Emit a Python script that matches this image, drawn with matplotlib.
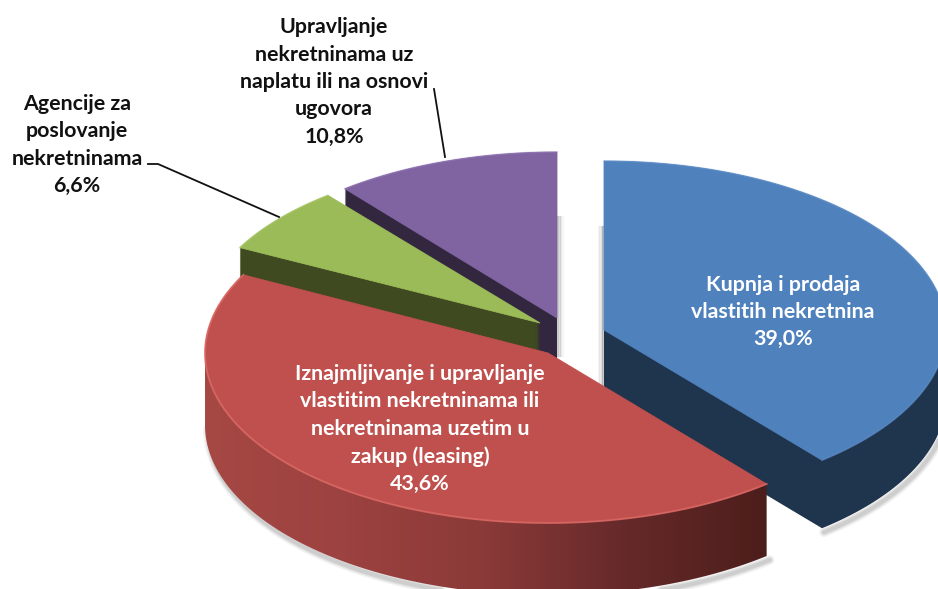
import numpy as np
import matplotlib
matplotlib.use('Agg')
import matplotlib.pyplot as plt
from matplotlib.colors import LinearSegmentedColormap
from matplotlib.patches import Polygon

# data, clockwise from 12 o'clock
names = ['Kupnja i prodaja\nvlastitih nekretnina',
         'Iznajmljivanje i upravljanje\nvlastitim nekretninama ili\nnekretninama uzetim u\nzakup (leasing)',
         'Agencije za\nposlovanje\nnekretninama',
         'Upravljanje\nnekretninama uz\nnaplatu ili na osnovi\nugovora']
values = [39.0, 43.6, 6.6, 10.8]
value_labels = ['39,0%', '43,6%', '6,6%', '10,8%']

# look of each slice
top_colors = ['#4F81BD', '#C0504D', '#9BBB59', '#8064A2']
wall_colors = ['#1F344D', '#8A3A38', '#3F4A20', '#32273F']
rim_colors = ['#6F9BD0', '#DE6C68', '#B3D070', '#9A80BC']
rim_alpha = [0.25, 0.7, 0.3, 0.3]
apex_x = [604, 548, 540, 557]
apex_y = [330, 353, 323, 318]
rad_x = [342, 343, 338, 338]
rad_y = [169, 170, 164, 166]
depth = [69, 72, 62, 62]
label_x = [783, 420, 77, 334]
label_y = [312, 429, 145, 82]
label_colors = ['white', 'white', '#111111', '#111111']

plt.rcParams['font.family'] = ['Lato', 'DejaVu Sans']

fig = plt.figure(figsize=(9.38, 5.89), dpi=100, facecolor='white')
ax = fig.add_axes([0, 0, 1, 1])


def arc(i, a0, a1, n=160):
    t = np.radians(np.linspace(a0, a1, n))
    return apex_x[i] + rad_x[i] * np.sin(t), apex_y[i] - rad_y[i] * np.cos(t)


def soft_shadow(xs, ys, dx=3, dy=4):
    # grey strokes getting narrower to fake the blur
    for lw, a in zip([7, 5, 3], [0.07, 0.10, 0.14]):
        ax.plot(xs + dx, ys + dy, color='#555555', lw=lw, alpha=a,
                solid_capstyle='round', zorder=1)


edges = np.concatenate([[0], np.cumsum(values)]) / sum(values) * 360
wall_cmap = LinearSegmentedColormap.from_list(
    'redwall', ['#A64844', '#9C4240', '#8A3A38', '#66292A', '#4C1E1B'])


def draw_slice(i, z):
    a0, a1 = edges[i], edges[i + 1]
    x, y = arc(i, a0, a1)
    top = np.column_stack([np.r_[apex_x[i], x], np.r_[apex_y[i], y]])

    if i == 1:
        # outer wall of the red slice, shaded left to right
        wx, wy = arc(i, a0, 270)
        band = np.column_stack([np.r_[wx, wx[::-1]], np.r_[wy, wy[::-1] + depth[i]]])
        soft_shadow(wx, wy + depth[i])
        clip = Polygon(band, closed=True, transform=ax.transData, fc='none', ec='none')
        ax.add_patch(clip)
        grad = np.linspace(0, 1, 256).reshape(1, -1)
        im = ax.imshow(grad, cmap=wall_cmap, aspect='auto', zorder=z,
                       extent=[wx.min(), wx.max(), 589, 0])
        im.set_clip_path(clip)
    else:
        if i == 0:
            wx, wy = arc(i, 90, a1)
            soft_shadow(wx, wy + depth[i], dx=2, dy=3)
        # start one pixel down so no dark edge shows round the top face
        for d in range(1, depth[i]):
            ax.add_patch(Polygon(top + [0, d], closed=True, fc=wall_colors[i],
                                 ec='none', zorder=z))

    ax.add_patch(Polygon(top, closed=True, fc=top_colors[i], ec=top_colors[i], lw=0.6,
                         zorder=z + 0.1))
    ax.plot(x, y, color=rim_colors[i], lw=1.4, alpha=rim_alpha[i], zorder=z + 0.2)


# soft shadows beside the gap between the slices
for k, a in enumerate([0.30, 0.18, 0.10, 0.05]):
    ax.plot([558 + k * 1.5] * 2, [217, 356], color='#555555', lw=1.5, alpha=a, zorder=1)
    ax.plot([603 - k * 1.5] * 2, [227, 386], color='#555555', lw=1.5, alpha=a, zorder=1)

# back to front
draw_slice(3, 2)
draw_slice(2, 3)
draw_slice(0, 4)
draw_slice(1, 5)

# leader lines
ax.plot([148, 158, 279], [164, 164, 217], color='#111111', lw=1.3, zorder=6)
ax.plot([434, 445], [89, 157], color='#111111', lw=1.3, zorder=6)

for i in range(len(values)):
    ax.text(label_x[i], label_y[i], names[i] + '\n' + value_labels[i], ha='center',
            va='center', ma='center', fontsize=15.4, fontweight='bold',
            color=label_colors[i], linespacing=1.46, zorder=7)

ax.set_xlim(0, 938)
ax.set_ylim(589, 0)
ax.axis('off')
fig.savefig('out.png', dpi=100, facecolor='white')
